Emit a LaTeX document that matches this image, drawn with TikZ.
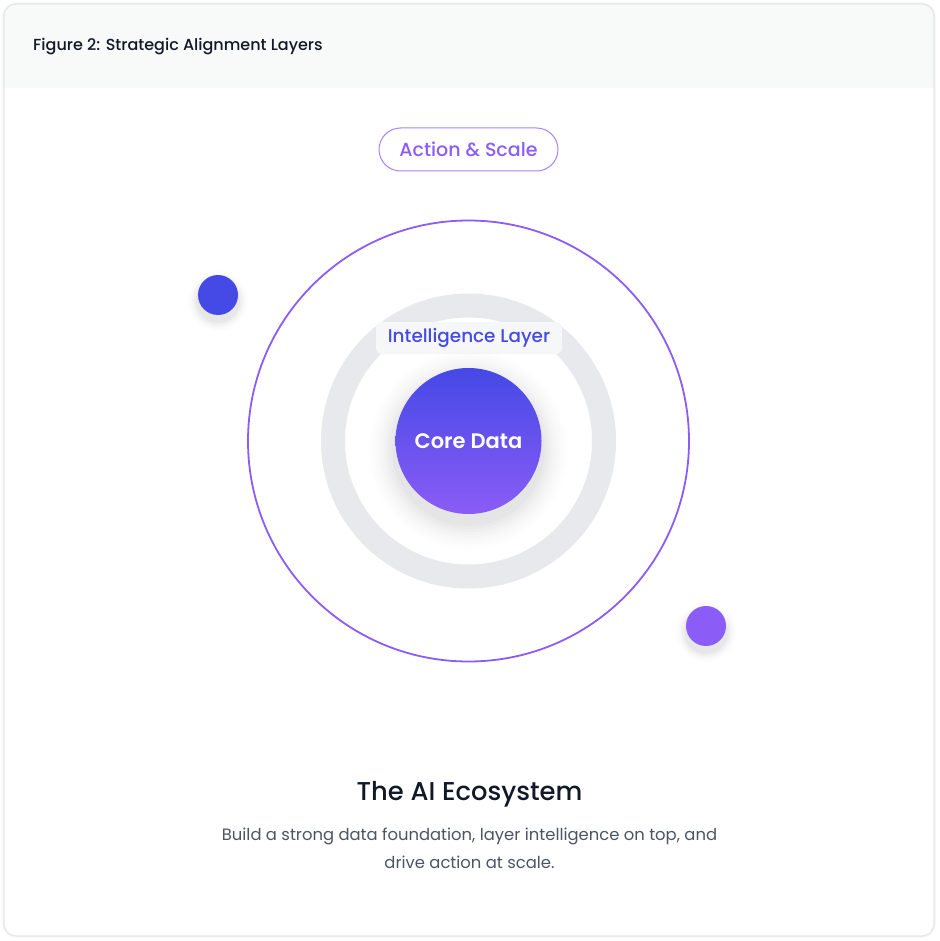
\documentclass[tikz,border=0pt]{standalone}
\usepackage{fontspec}
\setmainfont{Poppins}
\newfontfamily\medfont{Poppins}[UprightFont={* Medium}]
\newfontfamily\semifont{Poppins}[UprightFont={* SemiBold}]
\usetikzlibrary{calc}
\definecolor{cardline}{HTML}{E6E7E9}
\definecolor{headbg}{HTML}{F8F9F9}
\definecolor{ringgray}{HTML}{E8E9EC}
\definecolor{indigo}{HTML}{4549E6}
\definecolor{violet}{HTML}{8B5CF6}
\definecolor{ink}{HTML}{111827}
\definecolor{slate}{HTML}{4B5563}
\definecolor{labelbg}{HTML}{F6F7F9}
\tikzset{
  pxpic/.style={x=1pt,y=-1pt},
  dot/.style={circle,inner sep=0pt,minimum size=40pt},
  txt/.style={inner sep=0pt,anchor=center},
}
\begin{document}
\begin{tikzpicture}[pxpic]
\useasboundingbox (0,0) rectangle (939,941);
\fill[white] (0,0) rectangle (939,941);
% card shadow
\foreach \i in {1,...,4}{
  \draw[black,opacity=0.012,line width=\i*1.2pt,rounded corners=13pt] (4,4) rectangle (934,936);
}
\fill[white,rounded corners=12pt] (4,4) rectangle (934,936);
\begin{scope}
  \clip[rounded corners=12pt] (4,4) rectangle (934,936);
  \fill[headbg] (4,4) rectangle (934,88);
\end{scope}
\draw[cardline,line width=1.3pt,rounded corners=12pt] (4,4) rectangle (934,936);
\node[txt,anchor=west,text=ink,font=\medfont\fontsize{16}{19}\selectfont] (fig) at (33,47) {Figure 2: Strategic Alignment Layers};

% Action & Scale pill
\node[draw=violet!75,line width=1pt,rounded corners=21.5pt,minimum width=179pt,minimum height=43pt,inner sep=0pt,text=violet,font=\medfont\fontsize{19}{23}\selectfont] (action) at (468.5,149.5) {Action \& Scale};

% outer circle
\coordinate (center) at (468.5,441);
\draw[violet,line width=1.8pt] (center) circle (220.5);
% gray ring
\draw[ringgray,line width=24pt] (center) circle (135.5);

% intelligence label
\node[fill=labelbg,rounded corners=6pt,minimum width=186pt,minimum height=32pt,inner sep=0pt,text=indigo,font=\medfont\fontsize{18.4}{22}\selectfont] (intel) at (469,338) {Intelligence Layer};

% core shadow (soft)
\foreach \r/\o in {100/0.005,97/0.006,94/0.007,91/0.008,88/0.010,85/0.012,82/0.014,79/0.016,76/0.02}{
  \fill[black,opacity=\o] ($(center)+(0,9)$) circle (\r);
}
\shade[top color=indigo,bottom color=violet] (center) circle (73);
\node[txt,text=white,font=\semifont\fontsize{21}{25}\selectfont] (core) at (center) {Core Data};

% dots with shadows
\foreach \r/\o in {30/0.008,28/0.012,26/0.018,24/0.025,22/0.03}{
  \fill[black,opacity=\o] (218,301) circle (\r);
  \fill[black,opacity=\o] (706,632) circle (\r);
}
\node[dot,fill=indigo] (dotA) at (218,295) {};
\node[dot,fill=violet] (dotB) at (706,626) {};

% title and caption
\node[txt,text=ink,font=\medfont\fontsize{25.8}{30}\selectfont] (title) at (469.5,794.5) {The AI Ecosystem};
\node[txt,text=slate,font=\fontsize{16.4}{28}\selectfont,align=center] (caption) at (469.5,848) {Build a strong data foundation, layer intelligence on top, and\\drive action at scale.};
\end{tikzpicture}
\end{document}
